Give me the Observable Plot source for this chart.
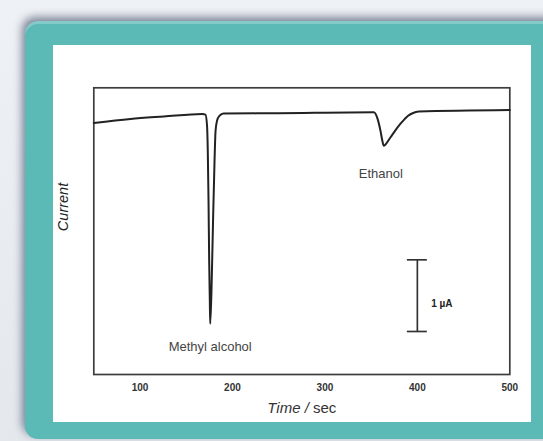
<!DOCTYPE html>
<html>
<head>
<meta charset="utf-8">
<script src="https://cdn.jsdelivr.net/npm/d3@7"></script>
<script src="https://cdn.jsdelivr.net/npm/@observablehq/plot@0.6"></script>
<style>
  html, body { margin: 0; padding: 0; }
  #wrap { position: relative; width: 543px; height: 441px; overflow: hidden;
          background: linear-gradient(180deg, #eef1f5 0%, #e4e8ed 100%); }
  #teal { position: absolute; left: 25px; top: 21px; width: 540px; height: 418px;
          border-radius: 13px; background: #5bb9b6;
          box-shadow: -3px -4px 8px rgba(35,45,75,0.55), inset 0 3px 0 rgba(255,255,255,0.25); }
  #paper { position: absolute; left: 53px; top: 45px; width: 478px; height: 377px; background: #fff; }
  #chart { position: absolute; left: 0; top: 0; }
</style>
</head>
<body>
<div id="wrap">
  <div id="teal"></div>
  <div id="paper"></div>
  <div id="chart"></div>
</div>
<script>
// Time (sec) and current (µA, arbitrary offset)
const time = [50, 89.7, 125.7, 167.3, 170.8, 172.5, 173.3, 174.1, 174.8, 175.5, 175.9,
  177.3, 179, 180.6, 181.7, 183.3, 186, 190.3, 249, 352.9, 356.9, 360.1, 362.3, 363.7,
  365.6, 371, 376.4, 381.8, 386, 390, 394.8, 401.6, 500];
const current = [3.51, 3.566, 3.60, 3.636, 3.626, 3.47, 3.12, 2.43, 1.59, 1.03, 0.707,
  1.17, 2.15, 2.98, 3.40, 3.54, 3.61, 3.64, 3.645, 3.658, 3.57, 3.40, 3.25, 3.19,
  3.21, 3.31, 3.41, 3.50, 3.56, 3.61, 3.645, 3.668, 3.69];
const xTicks = [100, 200, 300, 400, 500];
const peakNames = ["Methyl alcohol", "Ethanol"];
const peakTime = [175.9, 360.5];
const peakLabelCurrent = [0.39, 2.80];
const barTime = [400];
const barLow = [0.6];
const barHigh = [1.6];
const barLabel = ["1 µA"];
const xLabel = "Time / sec";
const yLabel = "Current";

const trace = time.map((t, i) => ({t, c: current[i]}));
const peaks = peakNames.map((n, i) => ({n, t: peakTime[i], c: peakLabelCurrent[i]}));
const bar = barTime.map((t, i) => ({t, lo: barLow[i], hi: barHigh[i], label: barLabel[i]}));
const capHalf = 10.8;

const chart = Plot.plot({
  width: 543,
  height: 441,
  marginLeft: 93.3,
  marginRight: 33.7,
  marginTop: 87.3,
  marginBottom: 67,
  style: {background: "transparent", fontFamily: "'Liberation Sans', Arial, sans-serif", fontSize: "10px", color: "#333"},
  x: {domain: [50, 500], ticks: xTicks, tickSize: 0, tickPadding: 9, label: null},
  y: {domain: [0, 4], axis: null},
  marks: [
    Plot.frame({stroke: "#3d3d3d", strokeWidth: 1.7}),
    Plot.line(trace, {x: "t", y: "c", stroke: "#222", strokeWidth: 2, curve: "monotone-x"}),
    Plot.ruleX(bar, {x: "t", y1: "lo", y2: "hi", stroke: "#333", strokeWidth: 1.7}),
    Plot.ruleY(bar, {y: "lo", x1: d => d.t - capHalf, x2: d => d.t + capHalf, stroke: "#333", strokeWidth: 1.7}),
    Plot.ruleY(bar, {y: "hi", x1: d => d.t - capHalf, x2: d => d.t + capHalf, stroke: "#333", strokeWidth: 1.7}),
    Plot.text(bar, {x: d => d.t + 15, y: d => (d.lo + d.hi) / 2 - 0.12, text: "label", textAnchor: "start", fontSize: 10, fontWeight: "bold", fill: "#222"}),
    Plot.text(peaks, {x: "t", y: "c", text: "n", fontSize: 13, fontWeight: "normal", fill: "#444"}),
    Plot.text([xLabel], {frameAnchor: "bottom", dy: 38.7, fontSize: 15, fontWeight: "normal", fill: "#333"}),
    Plot.text([yLabel], {frameAnchor: "left", dx: -30, rotate: -90, fontSize: 14.5, fontStyle: "italic", fontWeight: "normal", fill: "#222"})
  ]
});

// bold tick labels
d3.select(chart).selectAll("g[aria-label='x-axis'] text, g[aria-label='x-axis tick label'] text")
  .attr("font-weight", "bold").attr("fill", "#333");
d3.select(chart).selectAll("g[aria-label='x-axis'], g[aria-label='x-axis tick label']")
  .attr("font-weight", "bold");
// italic "Time /" part of the axis title
d3.select(chart).selectAll("text").each(function() {
  if (this.textContent === xLabel) {
    const el = d3.select(this);
    el.text(null);
    el.append("tspan").attr("font-style", "italic").text("Time /");
    el.append("tspan").text(" sec");
  }
});

document.getElementById("chart").appendChild(chart);
</script>
</body>
</html>
